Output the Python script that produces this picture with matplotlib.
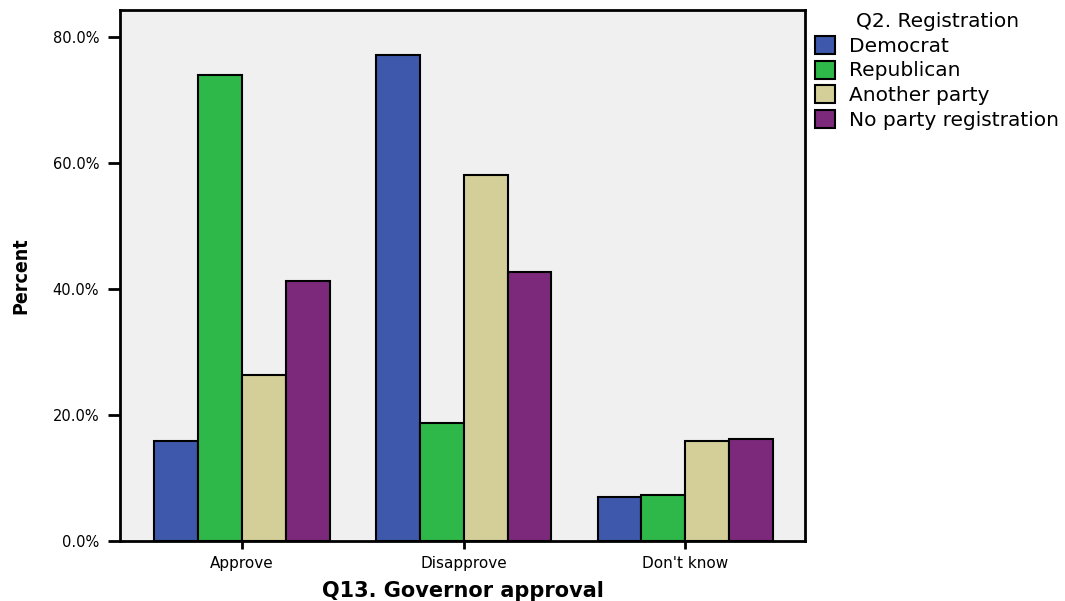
import matplotlib
matplotlib.use("Agg")
import matplotlib.pyplot as plt
import numpy as np
from matplotlib.ticker import FuncFormatter

categories = ["Approve", "Disapprove", "Don't know"]
series_names = ["Democrat", "Republican", "Another party", "No party registration"]
democrat = [15.9, 77.1, 7.0]
republican = [74.0, 18.7, 7.3]
another_party = [26.3, 58.1, 15.9]
no_party = [41.3, 42.7, 16.2]
colors = ["#3E58AC", "#2FB84A", "#D4CF98", "#7C297C"]

plt.rcParams['font.family'] = ['DejaVu Sans']

fig = plt.figure(figsize=(10.65, 6.01), dpi=100)
W, H = 1065, 601
ax = fig.add_axes([120 / W, 1 - 541 / H, (805 - 120) / W, (541 - 10) / H])
ax.set_facecolor("#F0F0F0")

x = np.arange(len(categories))
width = 0.198
data = [democrat, republican, another_party, no_party]
for i, (vals, name, c) in enumerate(zip(data, series_names, colors)):
    ax.bar(x + (i - 1.5) * width, vals, width, color=c, edgecolor="black",
           linewidth=1.5, label=name, zorder=3)

ax.set_xlim(-0.55, 2.54)
ax.set_ylim(0, 84.3)
ax.set_yticks([0, 20, 40, 60, 80])
ax.yaxis.set_major_formatter(FuncFormatter(lambda v, p: f"{v:.1f}%"))
ax.set_xticks(x)
ax.set_xticklabels(categories)
ax.tick_params(axis="y", length=9, width=2, labelsize=10.5, pad=6)
ax.tick_params(axis="x", length=6, width=2, labelsize=11, pad=5)
for s in ax.spines.values():
    s.set_linewidth(2)

ax.set_ylabel("Percent", fontsize=14, fontweight="bold", fontstretch="condensed",
              labelpad=16)
ax.set_xlabel("Q13. Governor approval", fontsize=15, fontweight="bold", labelpad=7)

leg = ax.legend(title="Q2. Registration", loc="upper left",
                bbox_to_anchor=(815 / W, 1 - 12 / H), bbox_transform=fig.transFigure,
                frameon=False, fontsize=14.5, title_fontsize=14.5,
                handlelength=1.0, handleheight=1.0, handletextpad=0.7,
                labelspacing=0.24, borderaxespad=0, borderpad=0,
                alignment="center")
for h in leg.legend_handles:
    h.set_linewidth(1.5)

fig.savefig("out.png", dpi=100)
